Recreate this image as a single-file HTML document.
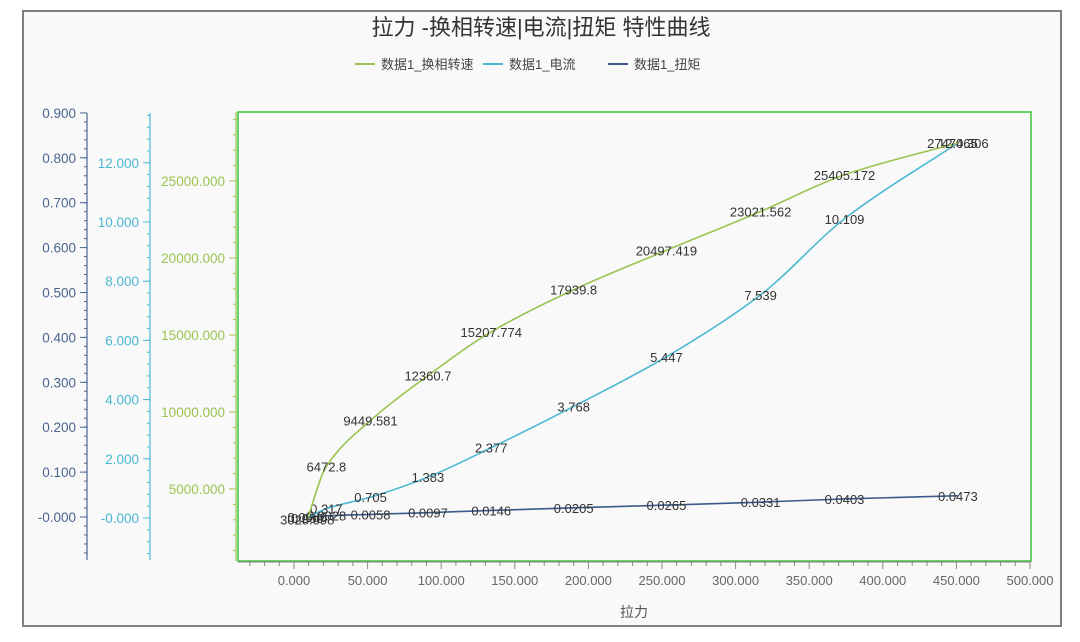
<!DOCTYPE html>
<html><head><meta charset="utf-8"><style>
body{margin:0;background:#fff;font-family:"Liberation Sans","Noto Sans CJK SC",sans-serif;}
#frame{position:absolute;left:22px;top:10px;width:1036px;height:613px;border:2px solid #7f7f7f;background:#f9f9f9;}
</style></head><body>
<div id="frame"></div>
<svg id="chart" width="1080" height="642" style="position:absolute;left:0;top:0">
<text x="541" y="35" text-anchor="middle" font-size="22" fill="#333" font-family="Liberation Sans,Noto Sans CJK SC,sans-serif">拉力 -换相转速|电流|扭矩 特性曲线</text>
<g font-size="13" fill="#444">
<g><line x1="355" y1="64" x2="375" y2="64" stroke="#9ac44f" stroke-width="2"/><text x="381" y="69">数据1_换相转速</text></g>
<g><line x1="483" y1="64" x2="503" y2="64" stroke="#4bb8d3" stroke-width="2"/><text x="509" y="69">数据1_电流</text></g>
<g><line x1="608" y1="64" x2="628" y2="64" stroke="#3b5a8a" stroke-width="2"/><text x="634" y="69">数据1_扭矩</text></g>
</g>
<rect x="238" y="112" width="793" height="449" fill="none" stroke="#3cc43c" stroke-width="1.5"/>
<text x="634" y="617" text-anchor="middle" font-size="14" fill="#555">拉力</text>
<g id="g"></g>
</svg>
<script>
const xs=[9,22,52,91,134,190,253,317,374,451];
const speed=[3028.098,6472.8,9449.581,12360.7,15207.774,17939.8,20497.419,23021.562,25405.172,27474.306];
const current=[0.0,0.317,0.705,1.383,2.377,3.768,5.447,7.539,10.109,12.673];
const torque=[0.0,0.0028,0.0058,0.0097,0.0146,0.0205,0.0265,0.0331,0.0403,0.0473];
const speedLabels=["3028.098","6472.8","9449.581","12360.7","15207.774","17939.8","20497.419","23021.562","25405.172","27474.306"];
const currentLabels=["0.000","0.317","0.705","1.383","2.377","3.768","5.447","7.539","10.109","12.065"];
const torqueLabels=["0.0000","0.0028","0.0058","0.0097","0.0146","0.0205","0.0265","0.0331","0.0403","0.0473"];
const xTicks=[0,50,100,150,200,250,300,350,400,450,500];
const tTicks=[0,0.1,0.2,0.3,0.4,0.5,0.6,0.7,0.8,0.9];
const cTicks=[0,2,4,6,8,10,12];
const sTicks=[5000,10000,15000,20000,25000];

const X=v=>294+v*1.472;
const YT=v=>517-v*449;
const YC=v=>518-v*29.6;
const YS=v=>566-v*0.0154;
const NS="http://www.w3.org/2000/svg";
const g=document.getElementById('g');
function mk(t,a,p){const e=document.createElementNS(NS,t);for(const k in a)e.setAttribute(k,a[k]);(p||g).appendChild(e);return e;}
function txt(x,y,s,a,fill,size,anchor){const e=mk('text',{x:x,y:y,fill:fill,'font-size':size,'text-anchor':anchor||'middle'});e.textContent=s;return e;}
mk('line',{x1:238,y1:562,x2:1031,y2:562,stroke:'#888'});
for(let v=-40;v<=500;v+=10){const big=v%50===0;const l=mk('line',{x1:X(v),y1:562,x2:X(v),y2:big?569:566,stroke:'#888'});if(X(v)<240)l.remove();}
xTicks.forEach(v=>{const t=txt(X(v),585,v.toFixed(3),0,'#666',13);

});
function axis(x,y1,y2,ticks,Y,dec,color,minorStep,lo,hi){
 mk('line',{x1:x,y1:y1,x2:x,y2:y2,stroke:color,'stroke-width':1.2});
 for(let v=lo;v<=hi+1e-9;v+=minorStep){const y=Y(v);if(y<y1||y>y2)continue;mk('line',{x1:x-3,y1:y,x2:x,y2:y,stroke:color});}
 ticks.forEach(v=>{const y=Y(v);mk('line',{x1:x-7,y1:y,x2:x,y2:y,stroke:color});
  const t=txt(x-11,y+5,(v===0?'-':'')+v.toFixed(3),0,color,13.5,'end');
  
  });
}
axis(87,113,560,tTicks,YT,3,'#4a6590',0.02,-0.08,0.9);
axis(150,113,560,cTicks,YC,3,'#4bb8d3',0.4,-1.6,13.6);
axis(236,112,561,sTicks,YS,3,'#9ac44f',1000,0,29000);
function monotone(pts){
 const n=pts.length,d=[],m=[];
 for(let i=0;i<n-1;i++)d.push((pts[i+1][1]-pts[i][1])/(pts[i+1][0]-pts[i][0]));
 m[0]=d[0];m[n-1]=d[n-2];
 for(let i=1;i<n-1;i++)m[i]=(d[i-1]*d[i]<=0)?0:2/(1/d[i-1]+1/d[i]);
 let s='M'+pts[0][0]+','+pts[0][1];
 for(let i=0;i<n-1;i++){const h=(pts[i+1][0]-pts[i][0])/3;
  s+=' C'+(pts[i][0]+h)+','+(pts[i][1]+m[i]*h)+' '+(pts[i+1][0]-h)+','+(pts[i+1][1]-m[i+1]*h)+' '+pts[i+1][0]+','+pts[i+1][1];}
 return s;}
function series(vals,labels,Y,color,name){
 const pts=xs.map((x,i)=>[X(x),Y(vals[i])]);
 const p=mk('path',{d:monotone(pts),fill:'none',stroke:color,'stroke-width':1.6});
 
 
 pts.forEach((q,i)=>{const t=txt(q[0],q[1]+5,labels[i],0,'#333',13);
  
  });
}
series(torque,torqueLabels,YT,'#3b5a8a','torque');
series(current,currentLabels,YC,'#4bb8d3','current');
series(speed,speedLabels,YS,'#9ac44f','speed');
</script>
</body></html>
